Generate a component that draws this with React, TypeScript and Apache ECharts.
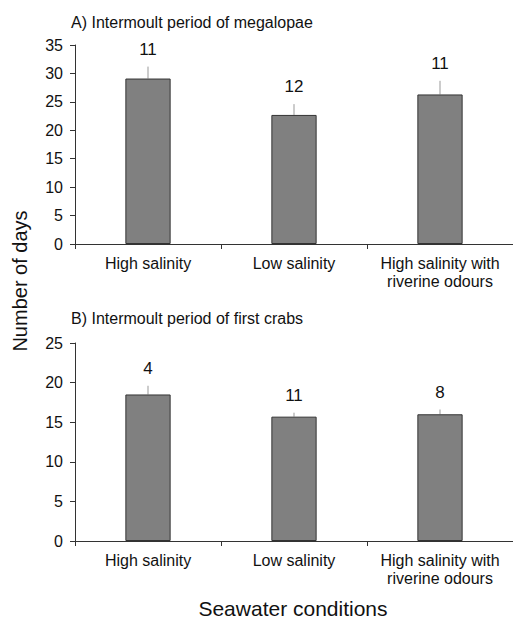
import React, { useEffect, useRef } from "react";
import * as echarts from "echarts";

const categories = ["High salinity", "Low salinity", "High salinity with\nriverine odours"];
const meansA = [29.1, 22.7, 26.3];
const errorsA = [2.1, 1.9, 2.4];
const countsA = [11, 12, 11];
const meansB = [18.5, 15.7, 16.0];
const errorsB = [1.1, 0.5, 0.6];
const countsB = [4, 11, 8];
const titleA = "A) Intermoult period of megalopae";
const titleB = "B) Intermoult period of first crabs";
const yTitle = "Number of days";
const xTitle = "Seawater conditions";

const FONT = "Arial, 'Liberation Sans', sans-serif";
const AXIS_COLOR = "#333";

function errData(means: number[], errs: number[], counts: number[]) {
  return means.map((m, i) => [i, m, m + errs[i], counts[i]]);
}

function renderErr(params: any, api: any) {
  const top = api.coord([api.value(0), api.value(2)]);
  const base = api.coord([api.value(0), api.value(1)]);
  return {
    type: "group",
    children: [
      {
        type: "line",
        shape: { x1: base[0], y1: base[1], x2: top[0], y2: top[1] },
        style: { stroke: "#999", lineWidth: 1 },
      },
      {
        type: "text",
        x: top[0],
        y: top[1] - 9,
        style: {
          text: String(api.value(3)),
          fill: "#111",
          font: `17px ${FONT}`,
          align: "center",
          verticalAlign: "bottom",
        },
      },
    ],
  };
}

export default function App() {
  const ref = useRef<HTMLDivElement>(null);
  useEffect(() => {
    document.body.style.margin = "0";
    const chart = echarts.init(ref.current!, null, { renderer: "svg" });
    const xAxisBase = (gridIndex: number) => ({
      type: "category",
      gridIndex,
      data: categories,
      axisLine: { lineStyle: { color: AXIS_COLOR, width: 1 } },
      axisTick: { show: true, length: 5, lineStyle: { color: AXIS_COLOR } },
      axisLabel: { color: "#111", fontSize: 16, fontFamily: FONT, margin: 10, lineHeight: 18, interval: 0 },
    });
    const yAxisBase = (gridIndex: number, max: number) => ({
      type: "value",
      gridIndex,
      min: 0,
      max,
      interval: 5,
      splitLine: { show: false },
      axisLine: { show: true, lineStyle: { color: AXIS_COLOR, width: 1 } },
      axisTick: { show: true, length: 5, lineStyle: { color: AXIS_COLOR } },
      axisLabel: { color: "#111", fontSize: 16, fontFamily: FONT, margin: 12 },
    });
    const barStyle = { color: "#808080", borderColor: "#333", borderWidth: 1 };
    const titleStyle = { fontSize: 16, fontWeight: "normal", color: "#111", fontFamily: FONT };
    chart.setOption({
      animation: false,
      backgroundColor: "#fff",
      title: [
        { text: titleA, left: 71, top: 14, padding: 0, textStyle: titleStyle },
        { text: titleB, left: 71, top: 310, padding: 0, textStyle: titleStyle },
      ],
      grid: [
        { left: 75, top: 45, width: 438, height: 199 },
        { left: 75, top: 343, width: 438, height: 198 },
      ],
      xAxis: [xAxisBase(0), xAxisBase(1)],
      yAxis: [yAxisBase(0, 35), yAxisBase(1, 25)],
      series: [
        { type: "bar", xAxisIndex: 0, yAxisIndex: 0, data: meansA, barWidth: "31%", itemStyle: barStyle, z: 2 },
        { type: "bar", xAxisIndex: 1, yAxisIndex: 1, data: meansB, barWidth: "31%", itemStyle: barStyle, z: 2 },
        { type: "custom", xAxisIndex: 0, yAxisIndex: 0, data: errData(meansA, errorsA, countsA), renderItem: renderErr, z: 1 },
        { type: "custom", xAxisIndex: 1, yAxisIndex: 1, data: errData(meansB, errorsB, countsB), renderItem: renderErr, z: 1 },
      ],
      graphic: [
        {
          type: "text",
          x: 20,
          y: 281,
          rotation: Math.PI / 2,
          style: { text: yTitle, font: `20px ${FONT}`, fill: "#111", align: "center", verticalAlign: "middle" },
        },
        {
          type: "text",
          x: 293,
          y: 608,
          style: { text: xTitle, font: `21px ${FONT}`, fill: "#111", align: "center", verticalAlign: "middle" },
        },
      ],
    });
    return () => chart.dispose();
  }, []);
  return <div ref={ref} style={{ width: 513, height: 620 }} />;
}
